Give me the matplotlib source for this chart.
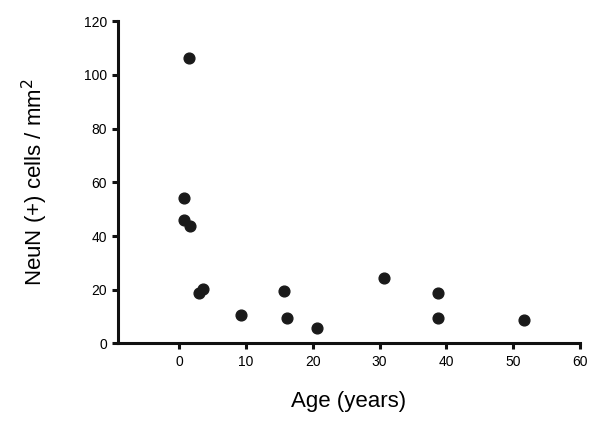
import matplotlib
matplotlib.use("Agg")
from matplotlib import pyplot as plt

plt.rcParams['font.family'] = ['Liberation Sans', 'DejaVu Sans']

age = [1.4, 0.7, 0.7, 1.6, 2.9, 3.6, 9.3, 15.7, 16.1, 20.7, 30.7, 38.7, 38.7, 51.7]
neun = [106.4, 54.3, 45.8, 43.7, 18.6, 20.3, 10.5, 19.7, 9.3, 5.8, 24.5, 18.6, 9.4, 8.7]

xticks = [0, 10, 20, 30, 40, 50, 60]
yticks = [0, 20, 40, 60, 80, 100, 120]

fig = plt.figure(figsize=(6.02, 4.24), dpi=100)
ax = fig.add_axes([0.196, 0.19, 0.767, 0.76])

ax.scatter(age, neun, s=60, color='#1a1a1a', zorder=3, clip_on=False)

ax.set_xlim(-9.2, 60)
ax.set_ylim(0, 120)
ax.set_xticks(xticks)
ax.set_yticks(yticks)

for side in ['top', 'right']:
    ax.spines[side].set_visible(False)
for side in ['left', 'bottom']:
    ax.spines[side].set_linewidth(2.2)
    ax.spines[side].set_color('#111111')

ax.tick_params(axis='both', direction='out', length=4, width=2.2,
               color='#111111', labelsize=10, pad=4)

ax.set_xlabel('Age (years)', fontsize=16, labelpad=16)
ax.set_ylabel('NeuN (+) cells / mm$^2$', fontsize=16, labelpad=24)

fig.savefig('out.png', dpi=100)
